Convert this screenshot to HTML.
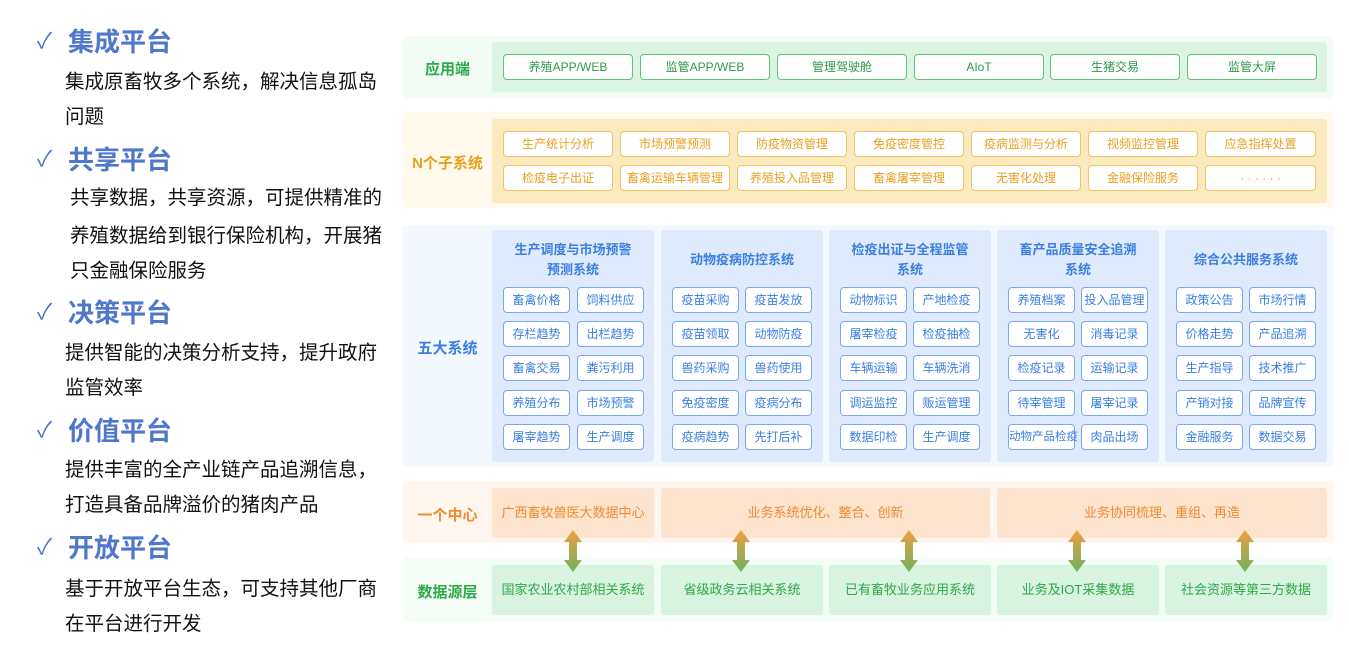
<!DOCTYPE html>
<html><head><meta charset="utf-8">
<style>
body{margin:0;width:1349px;height:651px;background:#fff;position:relative;overflow:hidden;font-family:"Liberation Sans","Noto Sans CJK SC",sans-serif}
div{position:absolute;box-sizing:border-box}
.ck{left:37px;font-size:22px;color:#4a72c8;line-height:24px}
.tt{left:68px;font-size:26px;font-weight:bold;color:#4f78cc;line-height:30px}
.bd{left:65px;font-size:19.5px;color:#111;line-height:24px;white-space:nowrap}
.lab{left:403px;width:89px;text-align:center;font-size:15px;font-weight:bold}
.b{height:26px;line-height:24px;text-align:center;font-size:12px;border-radius:4px;background:#fff;white-space:nowrap}
.g{border:1.5px solid #62c278;color:#2f9a4a}
.y{border:1.5px solid #f2c464;color:#e8a020}
.bl{border:1.5px solid #78a8ee;color:#3a7fe0;width:67px}
.col{top:230px;width:162px;height:232px;background:#dfeafd;border-radius:3px}
.ct{width:162px;text-align:center;color:#3a7fe0;font-size:13px;font-weight:bold;line-height:20px}
.or{top:488px;height:50px;background:#fde4cf;color:#f08a30;font-size:13px;line-height:50px;text-align:center;border-radius:3px}
.ds{top:565px;height:50px;background:#d8f3df;color:#2fa84a;font-size:13px;line-height:50px;text-align:center;border-radius:3px;width:162px}
</style></head><body>
<div class="ck" style="top:29px">✓</div><div class="tt" style="top:27px">集成平台</div>
<div class="bd" style="top:70px">集成原畜牧多个系统，解决信息孤岛</div>
<div class="bd" style="top:105px">问题</div>
<div class="ck" style="top:147px">✓</div><div class="tt" style="top:145px">共享平台</div>
<div class="bd" style="top:186px;left:70px">共享数据，共享资源，可提供精准的</div>
<div class="bd" style="top:224px;left:70px">养殖数据给到银行保险机构，开展猪</div>
<div class="bd" style="top:259px;left:70px">只金融保险服务</div>
<div class="ck" style="top:300px">✓</div><div class="tt" style="top:298px">决策平台</div>
<div class="bd" style="top:341px">提供智能的决策分析支持，提升政府</div>
<div class="bd" style="top:376px">监管效率</div>
<div class="ck" style="top:418px">✓</div><div class="tt" style="top:416px">价值平台</div>
<div class="bd" style="top:458px">提供丰富的全产业链产品追溯信息，</div>
<div class="bd" style="top:493px">打造具备品牌溢价的猪肉产品</div>
<div class="ck" style="top:535px">✓</div><div class="tt" style="top:533px">开放平台</div>
<div class="bd" style="top:577px">基于开放平台生态，可支持其他厂商</div>
<div class="bd" style="top:612px">在平台进行开发</div>

<div style="left:403px;top:36px;width:930px;height:62px;background:#f3fbf5;border-radius:4px"></div>
<div style="left:492px;top:42px;width:835px;height:50px;background:#dcf5e2;border-radius:3px"></div>
<div class="lab" style="top:58px;color:#2fa84a">应用端</div>
<div class="b g" style="left:503px;top:54px;width:130px">养殖APP/WEB</div>
<div class="b g" style="left:640px;top:54px;width:130px">监管APP/WEB</div>
<div class="b g" style="left:777px;top:54px;width:130px">管理驾驶舱</div>
<div class="b g" style="left:914px;top:54px;width:130px">AIoT</div>
<div class="b g" style="left:1050px;top:54px;width:130px">生猪交易</div>
<div class="b g" style="left:1187px;top:54px;width:130px">监管大屏</div>

<div style="left:403px;top:112px;width:930px;height:96px;background:#fffaeb;border-radius:4px"></div>
<div style="left:492px;top:119px;width:835px;height:84px;background:#fbe9c0;border-radius:3px"></div>
<div class="lab" style="top:152px;color:#e8a020">N个子系统</div>
<div class="b y" style="left:503px;top:131px;width:110px">生产统计分析</div>
<div class="b y" style="left:620px;top:131px;width:110px">市场预警预测</div>
<div class="b y" style="left:737px;top:131px;width:110px">防疫物资管理</div>
<div class="b y" style="left:854px;top:131px;width:110px">免疫密度管控</div>
<div class="b y" style="left:971px;top:131px;width:110px">疫病监测与分析</div>
<div class="b y" style="left:1088px;top:131px;width:110px">视频监控管理</div>
<div class="b y" style="left:1205px;top:131px;width:111px">应急指挥处置</div>
<div class="b y" style="left:503px;top:165px;width:110px">检疫电子出证</div>
<div class="b y" style="left:620px;top:165px;width:110px">畜禽运输车辆管理</div>
<div class="b y" style="left:737px;top:165px;width:110px">养殖投入品管理</div>
<div class="b y" style="left:854px;top:165px;width:110px">畜禽屠宰管理</div>
<div class="b y" style="left:971px;top:165px;width:110px">无害化处理</div>
<div class="b y" style="left:1088px;top:165px;width:110px">金融保险服务</div>
<div class="b y" style="left:1205px;top:165px;width:111px">· · · · · ·</div>

<div style="left:403px;top:225px;width:930px;height:242px;background:#f3f7fe;border-radius:4px"></div>
<div class="lab" style="top:337px;color:#3a7fe0">五大系统</div>

<div class="col" style="left:492px"></div>
<div class="ct" style="left:492px;top:240px">生产调度与市场预警<br>预测系统</div>
<div class="b bl" style="left:503px;top:287px">畜禽价格</div><div class="b bl" style="left:577px;top:287px">饲料供应</div>
<div class="b bl" style="left:503px;top:321px">存栏趋势</div><div class="b bl" style="left:577px;top:321px">出栏趋势</div>
<div class="b bl" style="left:503px;top:355px">畜禽交易</div><div class="b bl" style="left:577px;top:355px">粪污利用</div>
<div class="b bl" style="left:503px;top:390px">养殖分布</div><div class="b bl" style="left:577px;top:390px">市场预警</div>
<div class="b bl" style="left:503px;top:424px">屠宰趋势</div><div class="b bl" style="left:577px;top:424px">生产调度</div>

<div class="col" style="left:661px"></div>
<div class="ct" style="left:661px;top:250px">动物疫病防控系统</div>
<div class="b bl" style="left:672px;top:287px">疫苗采购</div><div class="b bl" style="left:745px;top:287px">疫苗发放</div>
<div class="b bl" style="left:672px;top:321px">疫苗领取</div><div class="b bl" style="left:745px;top:321px">动物防疫</div>
<div class="b bl" style="left:672px;top:355px">兽药采购</div><div class="b bl" style="left:745px;top:355px">兽药使用</div>
<div class="b bl" style="left:672px;top:390px">免疫密度</div><div class="b bl" style="left:745px;top:390px">疫病分布</div>
<div class="b bl" style="left:672px;top:424px">疫病趋势</div><div class="b bl" style="left:745px;top:424px">先打后补</div>

<div class="col" style="left:829px"></div>
<div class="ct" style="left:829px;top:240px">检疫出证与全程监管<br>系统</div>
<div class="b bl" style="left:840px;top:287px">动物标识</div><div class="b bl" style="left:913px;top:287px">产地检疫</div>
<div class="b bl" style="left:840px;top:321px">屠宰检疫</div><div class="b bl" style="left:913px;top:321px">检疫抽检</div>
<div class="b bl" style="left:840px;top:355px">车辆运输</div><div class="b bl" style="left:913px;top:355px">车辆洗消</div>
<div class="b bl" style="left:840px;top:390px">调运监控</div><div class="b bl" style="left:913px;top:390px">贩运管理</div>
<div class="b bl" style="left:840px;top:424px">数据印检</div><div class="b bl" style="left:913px;top:424px">生产调度</div>

<div class="col" style="left:997px"></div>
<div class="ct" style="left:997px;top:240px">畜产品质量安全追溯<br>系统</div>
<div class="b bl" style="left:1008px;top:287px">养殖档案</div><div class="b bl" style="left:1081px;top:287px">投入品管理</div>
<div class="b bl" style="left:1008px;top:321px">无害化</div><div class="b bl" style="left:1081px;top:321px">消毒记录</div>
<div class="b bl" style="left:1008px;top:355px">检疫记录</div><div class="b bl" style="left:1081px;top:355px">运输记录</div>
<div class="b bl" style="left:1008px;top:390px">待宰管理</div><div class="b bl" style="left:1081px;top:390px">屠宰记录</div>
<div class="b bl" style="left:1008px;top:424px;font-size:11.5px">动物产品检疫</div><div class="b bl" style="left:1081px;top:424px">肉品出场</div>

<div class="col" style="left:1165px"></div>
<div class="ct" style="left:1165px;top:250px">综合公共服务系统</div>
<div class="b bl" style="left:1176px;top:287px">政策公告</div><div class="b bl" style="left:1249px;top:287px">市场行情</div>
<div class="b bl" style="left:1176px;top:321px">价格走势</div><div class="b bl" style="left:1249px;top:321px">产品追溯</div>
<div class="b bl" style="left:1176px;top:355px">生产指导</div><div class="b bl" style="left:1249px;top:355px">技术推广</div>
<div class="b bl" style="left:1176px;top:390px">产销对接</div><div class="b bl" style="left:1249px;top:390px">品牌宣传</div>
<div class="b bl" style="left:1176px;top:424px">金融服务</div><div class="b bl" style="left:1249px;top:424px">数据交易</div>

<div style="left:403px;top:481px;width:930px;height:62px;background:#fff6ef;border-radius:4px"></div>
<div class="lab" style="top:504px;color:#f08a30">一个中心</div>
<div class="or" style="left:492px;width:162px">广西畜牧兽医大数据中心</div>
<div class="or" style="left:661px;width:329px">业务系统优化、整合、创新</div>
<div class="or" style="left:997px;width:330px">业务协同梳理、重组、再造</div>

<div style="left:403px;top:558px;width:930px;height:63px;background:#f3fcf5;border-radius:4px"></div>
<div class="lab" style="top:581px;color:#2fa84a">数据源层</div>
<div class="ds" style="left:492px">国家农业农村部相关系统</div>
<div class="ds" style="left:661px">省级政务云相关系统</div>
<div class="ds" style="left:829px">已有畜牧业务应用系统</div>
<div class="ds" style="left:997px">业务及IOT采集数据</div>
<div class="ds" style="left:1165px">社会资源等第三方数据</div>

<svg style="position:absolute;left:0;top:0" width="1349" height="651">
<defs><linearGradient id="ag" x1="0" y1="0" x2="0" y2="1"><stop offset="0" stop-color="#f0a040"/><stop offset="1" stop-color="#6fb060"/></linearGradient>
<g id="ar"><path d="M0,0 L9,12 L4,12 L4,30 L9,30 L0,42 L-9,30 L-4,30 L-4,12 L-9,12 Z" fill="url(#ag)"/></g></defs>
<use href="#ar" x="573" y="530"/><use href="#ar" x="741" y="530"/><use href="#ar" x="909" y="530"/><use href="#ar" x="1077" y="530"/><use href="#ar" x="1245" y="530"/>
</svg>
</body></html>
